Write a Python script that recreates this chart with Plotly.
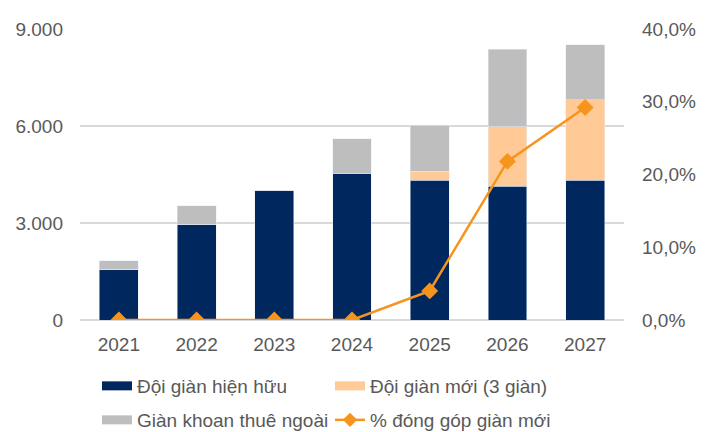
import plotly.graph_objects as go

years = ["2021", "2022", "2023", "2024", "2025", "2026", "2027"]
existing = [1570, 2960, 4010, 4530, 4330, 4140, 4330]
new_rigs = [0, 0, 0, 0, 265, 1840, 2480]
leased = [260, 570, 0, 1080, 1430, 2400, 1700]
new_share = [0.0, 0.0, 0.0, 0.0, 0.040, 0.218, 0.292]

names = ["Đội giàn hiện hữu", "Đội giàn mới (3 giàn)", "Giàn khoan thuê ngoài", "% đóng góp giàn mới"]

NAVY = "#00285E"
PEACH = "#FFCA96"
GRAY = "#BEBEBE"
ORANGE = "#F7941D"
TXT = "#595959"

fig = go.Figure()
fig.add_trace(go.Bar(x=years, y=existing, name=names[0], marker_color=NAVY, showlegend=False))
fig.add_trace(go.Bar(x=years, y=new_rigs, name=names[1], marker_color=PEACH, showlegend=False))
fig.add_trace(go.Bar(x=years, y=leased, name=names[2], marker_color=GRAY, showlegend=False))
fig.add_trace(go.Scatter(x=years, y=new_share, name=names[3], yaxis="y2", mode="lines+markers",
                         line=dict(color=ORANGE, width=2.5),
                         marker=dict(symbol="diamond", size=13, color=ORANGE),
                         showlegend=False))

# legend entries (wide swatches like the reference)
for nm, col, lg in [(names[0], NAVY, "legend"), (names[1], PEACH, "legend"), (names[2], GRAY, "legend2")]:
    fig.add_trace(go.Scatter(x=[None], y=[None], name=nm, mode="lines",
                             line=dict(color=col, width=9), legend=lg, showlegend=True))
fig.add_trace(go.Scatter(x=[None], y=[None], name=names[3], mode="lines+markers", yaxis="y2",
                         line=dict(color=ORANGE, width=2.5),
                         marker=dict(symbol="diamond", size=11, color=ORANGE),
                         legend="legend2", showlegend=True))

font = dict(family="Liberation Sans, Arial, sans-serif", size=19, color=TXT)
legend_common = dict(orientation="h", font=font, entrywidth=188, xanchor="left",
                     yanchor="middle", xref="container", yref="container",
                     bgcolor="rgba(0,0,0,0)", traceorder="normal")

fig.update_layout(
    width=713, height=432,
    margin=dict(l=80, r=89, t=29, b=109),
    barmode="stack", bargap=0.5,
    separators=",.",
    plot_bgcolor="white", paper_bgcolor="white",
    font=font,
    hovermode=False,
    xaxis=dict(showgrid=False, showline=False, ticks="", tickfont=font, ticklabelstandoff=11),
    yaxis=dict(range=[0, 9000], tickvals=[0, 3000, 6000, 9000], tickformat=",d",
               showgrid=True, gridcolor="#D9D9D9", gridwidth=1.5,
               zeroline=True, zerolinecolor="#D9D9D9", zerolinewidth=1.5,
               showline=False, ticks="", tickfont=font, ticklabelstandoff=16),
    yaxis2=dict(range=[0, 0.4], tickvals=[0, 0.1, 0.2, 0.3, 0.4], tickformat=".1%",
                overlaying="y", side="right", showgrid=False, zeroline=False,
                showline=False, ticks="", tickfont=font, ticklabelstandoff=17),
    legend=dict(x=97 / 713, y=1 - 386 / 432, **legend_common),
    legend2=dict(x=97 / 713, y=1 - 420 / 432, **legend_common),
    showlegend=True,
)

fig.write_html("out.html", config={"displayModeBar": False},
               post_script="document.body.style.margin='0';")
